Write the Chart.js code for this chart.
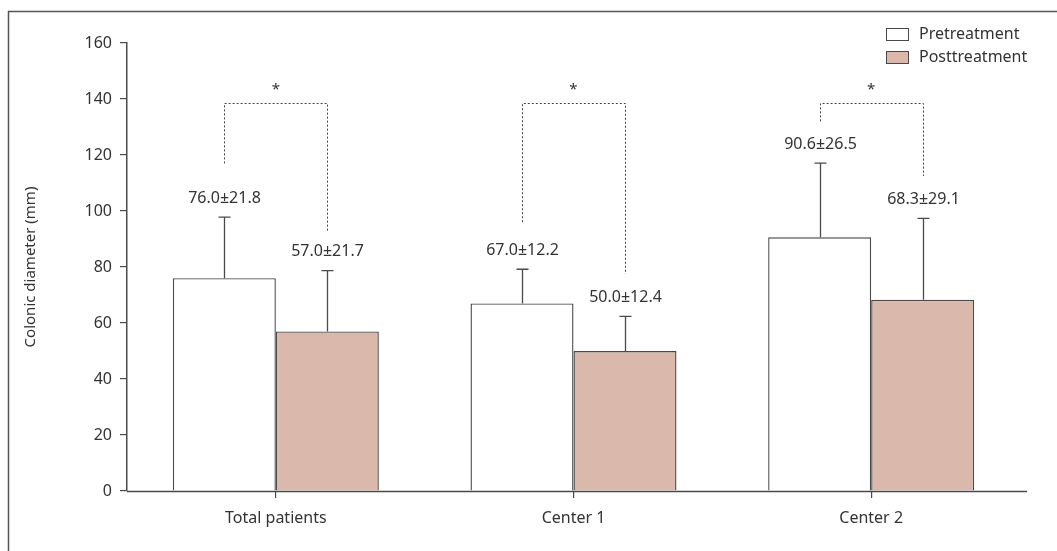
<!DOCTYPE html>
<html>
<head>
<meta charset="utf-8">
<script src="https://cdn.jsdelivr.net/npm/chart.js@4.4.1/dist/chart.umd.min.js"></script>
<style>
  html, body { margin: 0; padding: 0; background: #fff; }
  #wrap { position: relative; width: 1057px; height: 551px; }
</style>
</head>
<body>
<div id="wrap"><canvas id="c" width="1057" height="551"></canvas></div>
<script>
// Groups and measurements (mean ± SD, colonic diameter in mm)
const categories = ['Total patients', 'Center 1', 'Center 2'];
const seriesNames = ['Pretreatment', 'Posttreatment'];
const preMean = [76.0, 67.0, 90.6];
const preSD = [21.8, 12.2, 26.5];
const postMean = [57.0, 50.0, 68.3];
const postSD = [21.7, 12.4, 29.1];
const yTicks = [0, 20, 40, 60, 80, 100, 120, 140, 160];

// Significance brackets: top of bracket, lower ends over each bar, star height
const bracketTop = [138.5, 138.5, 138.5];
const bracketPreEnd = [117, 96, 132];
const bracketPostEnd = [93, 77.5, 112.5];
const starLevel = [144.5, 144.5, 144.5];

const FONT = '"Noto Sans", "Open Sans", sans-serif';
const TEXT = '#333333';
const EDGE = '#4a4a4a';
const POST_FILL = '#dab8ac';

const frame = {
  id: 'frame',
  beforeDraw(chart) {
    const ctx = chart.ctx;
    ctx.save();
    ctx.strokeStyle = '#555';
    ctx.lineWidth = 1.5;
    ctx.beginPath();
    ctx.moveTo(8.5, 551);
    ctx.lineTo(8.5, 11.5);
    ctx.lineTo(1057, 11.5);
    ctx.stroke();
    ctx.restore();
  }
};

const errorBarsAndLabels = {
  id: 'errorBarsAndLabels',
  afterDatasetsDraw(chart) {
    const ctx = chart.ctx;
    const y = chart.scales.y;
    const sds = [preSD, postSD];
    ctx.save();
    chart.data.datasets.forEach((ds, di) => {
      const meta = chart.getDatasetMeta(di);
      meta.data.forEach((bar, i) => {
        const mean = ds.data[i];
        const sd = sds[di][i];
        const yTop = y.getPixelForValue(mean);
        const yCap = y.getPixelForValue(mean + sd);
        const x = Math.round(bar.x) + 0.5;
        ctx.strokeStyle = EDGE;
        ctx.lineWidth = 1.3;
        ctx.beginPath();
        ctx.moveTo(x, yTop);
        ctx.lineTo(x, yCap);
        ctx.moveTo(x - 6, yCap);
        ctx.lineTo(x + 6, yCap);
        ctx.stroke();
        ctx.fillStyle = TEXT;
        ctx.font = '16px ' + FONT;
        ctx.textAlign = 'center';
        ctx.textBaseline = 'middle';
        ctx.fillText(mean.toFixed(1) + '\u00B1' + sd.toFixed(1), x, yCap - 19);
      });
    });

    // dotted significance brackets
    const m0 = chart.getDatasetMeta(0), m1 = chart.getDatasetMeta(1);
    ctx.strokeStyle = '#444';
    ctx.lineWidth = 1;
    ctx.setLineDash([2, 2]);
    categories.forEach((c, i) => {
      const xl = Math.round(m0.data[i].x) + 0.5;
      const xr = Math.round(m1.data[i].x) + 0.5;
      const yt = Math.round(y.getPixelForValue(bracketTop[i])) + 0.5;
      ctx.beginPath();
      ctx.moveTo(xl, y.getPixelForValue(bracketPreEnd[i]));
      ctx.lineTo(xl, yt);
      ctx.lineTo(xr, yt);
      ctx.lineTo(xr, y.getPixelForValue(bracketPostEnd[i]));
      ctx.stroke();
    });
    ctx.setLineDash([]);
    ctx.fillStyle = TEXT;
    ctx.font = '15px ' + FONT;
    ctx.textAlign = 'center';
    ctx.textBaseline = 'middle';
    categories.forEach((c, i) => {
      const xm = (m0.data[i].x + m1.data[i].x) / 2;
      ctx.fillText('*', xm, y.getPixelForValue(starLevel[i]) + 3);
    });

    // baseline extends slightly past the last group
    const a = chart.chartArea;
    const yb = Math.round(y.getPixelForValue(0)) + 0.5;
    ctx.strokeStyle = EDGE;
    ctx.lineWidth = 1.5;
    ctx.beginPath();
    ctx.moveTo(a.left, yb);
    ctx.lineTo(a.right + 7, yb);
    ctx.stroke();

    // legend
    ctx.font = '16px ' + FONT;
    ctx.textAlign = 'left';
    ctx.textBaseline = 'middle';
    const fills = ['#ffffff', POST_FILL];
    seriesNames.forEach((name, k) => {
      const cy = 34 + k * 23;
      ctx.fillStyle = fills[k];
      ctx.fillRect(886, cy - 6, 23, 13);
      ctx.strokeStyle = EDGE;
      ctx.lineWidth = 1;
      ctx.strokeRect(886.5, cy - 5.5, 22, 12);
      ctx.fillStyle = TEXT;
      ctx.fillText(name, 919, cy);
    });
    ctx.restore();
  }
};

new Chart(document.getElementById('c'), {
  type: 'bar',
  data: {
    labels: categories,
    datasets: [
      { label: seriesNames[0], data: preMean, backgroundColor: '#ffffff', borderColor: EDGE, borderWidth: 1.4 },
      { label: seriesNames[1], data: postMean, backgroundColor: POST_FILL, borderColor: EDGE, borderWidth: 1.4 }
    ]
  },
  options: {
    responsive: false,
    animation: false,
    devicePixelRatio: 1,
    layout: { padding: { top: 43, right: 37, bottom: 0, left: 20 } },
    datasets: { bar: { categoryPercentage: 0.692, barPercentage: 1.0 } },
    plugins: { legend: { display: false }, tooltip: { enabled: false } },
    scales: {
      x: {
        grid: { display: true, offset: false, drawOnChartArea: false, drawTicks: true, tickLength: 7, color: EDGE, lineWidth: 1.2 },
        border: { display: false },
        ticks: { color: TEXT, font: { family: FONT, size: 16 }, padding: 11 },
        afterFit(s) { s.height = 60; }
      },
      y: {
        min: 0, max: 160,
        afterBuildTicks(s) { s.ticks = yTicks.map(v => ({ value: v })); },
        grid: { display: true, drawOnChartArea: false, drawTicks: true, tickLength: 7, color: EDGE, lineWidth: 1.2 },
        border: { display: true, color: EDGE, width: 1.5 },
        ticks: { color: TEXT, font: { family: FONT, size: 16 }, padding: 8 },
        title: { display: true, text: 'Colonic diameter (mm)', color: TEXT, font: { family: FONT, size: 15 }, padding: { top: 2, bottom: 0 } },
        afterFit(s) { s.width = 107; }
      }
    }
  },
  plugins: [frame, errorBarsAndLabels]
});
</script>
</body>
</html>
